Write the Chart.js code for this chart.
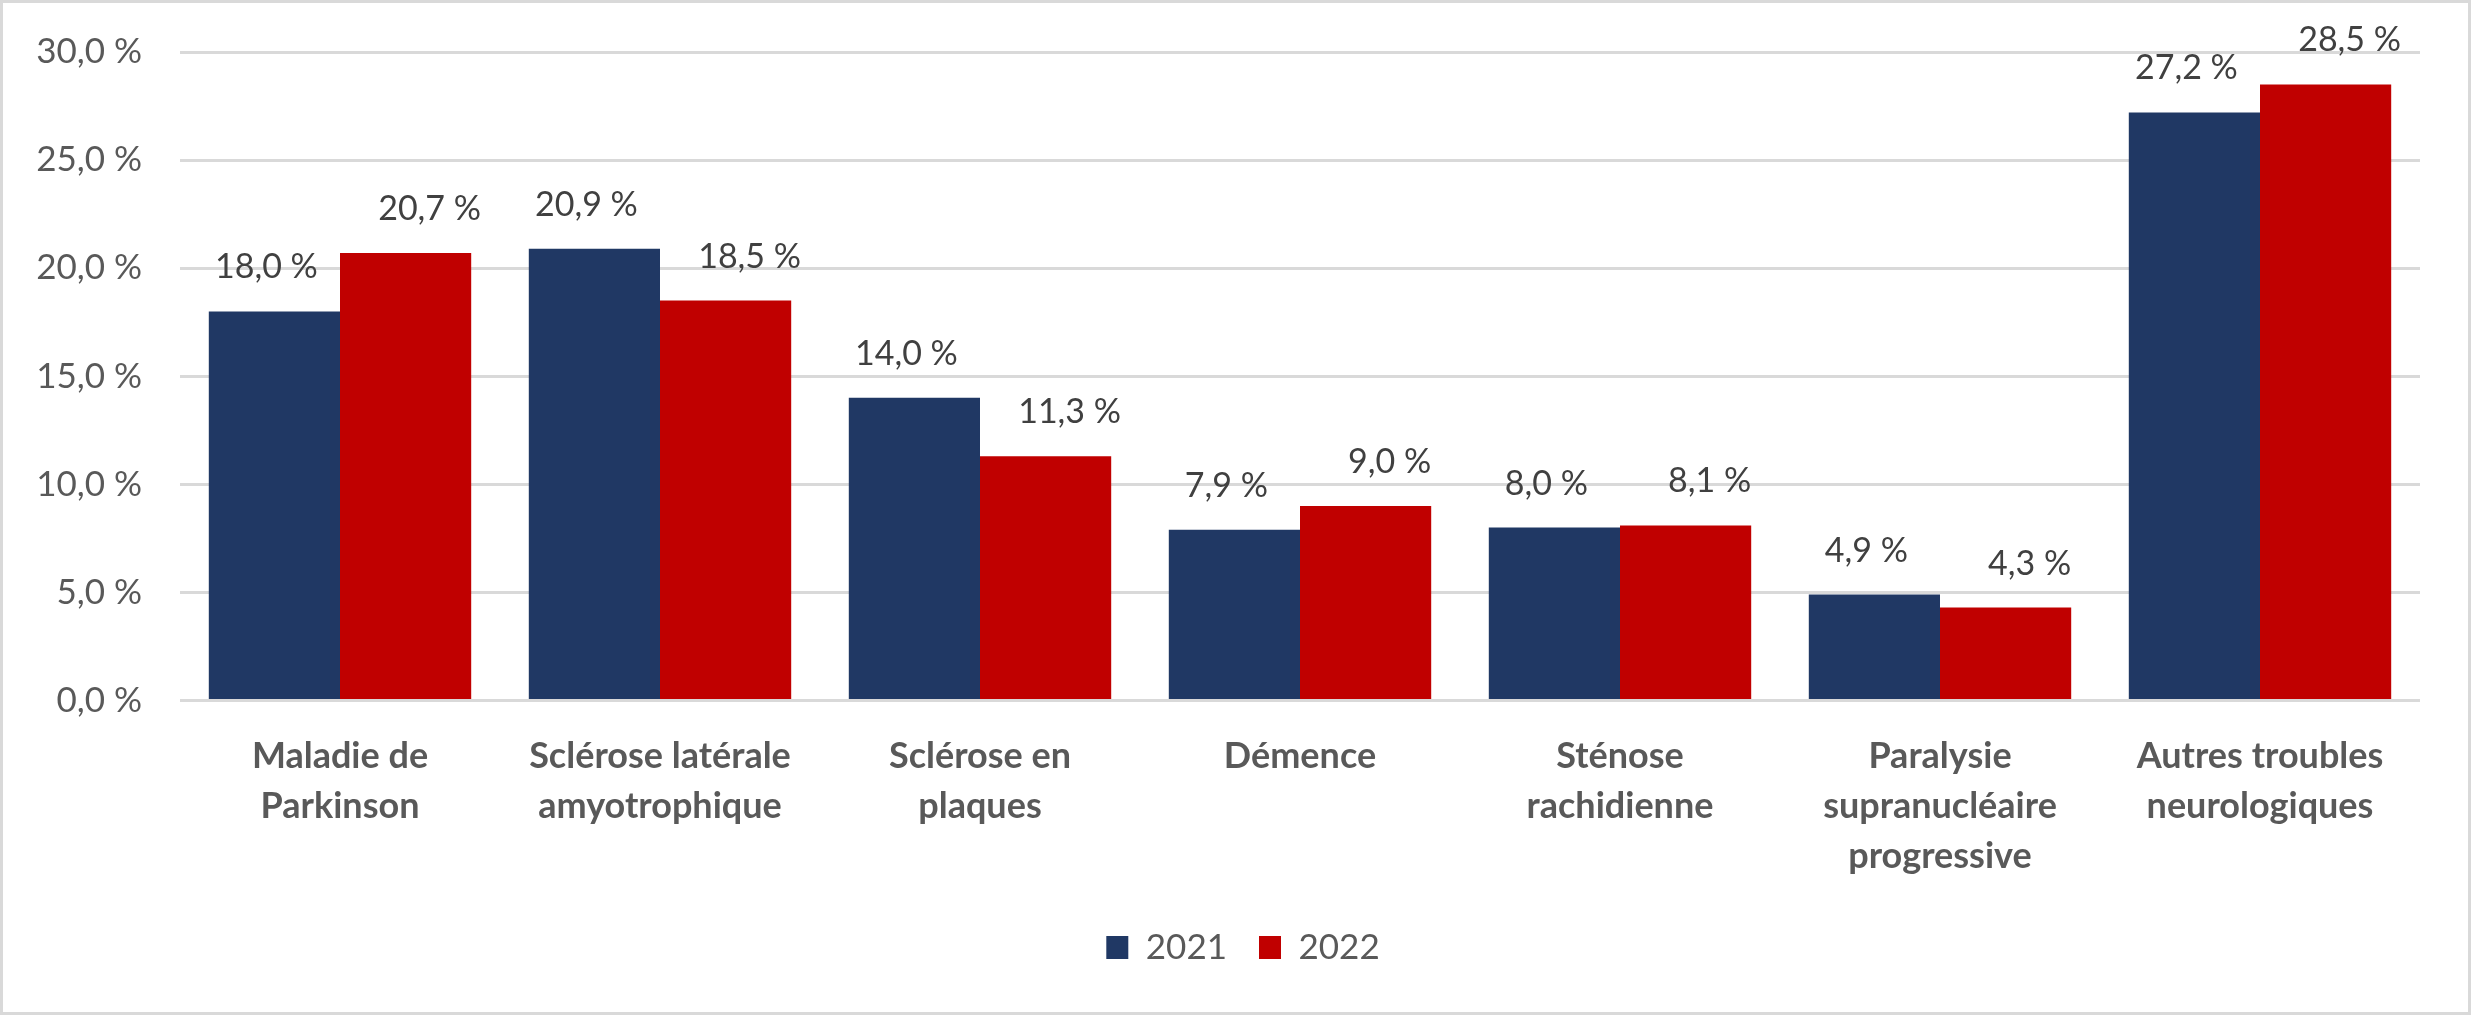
<!DOCTYPE html>
<html><head><meta charset="utf-8">
<script src="https://cdn.jsdelivr.net/npm/chart.js@4/dist/chart.umd.min.js"></script>
<style>html,body{margin:0;padding:0;background:#fff;overflow:hidden}#wrap{width:2471px;height:1015px;position:relative}canvas{display:block}</style>
</head><body><div id="wrap"><canvas id="c" width="2471" height="1015"></canvas></div>
<script>
const categories = [["Maladie de","Parkinson"],["Sclérose latérale","amyotrophique"],["Sclérose en","plaques"],["Démence"],["Sténose","rachidienne"],["Paralysie","supranucléaire","progressive"],["Autres troubles","neurologiques"]];
const seriesNames = ["2021","2022"];
const values2021 = [18.0,20.9,14.0,7.9,8.0,4.9,27.2];
const values2022 = [20.7,18.5,11.3,9.0,8.1,4.3,28.5];
const yTickValues = [0,5,10,15,20,25,30];
const fmt = v => v.toFixed(1).replace('.', ',') + ' %';

const frame = {
  id:'frame',
  beforeDraw(chart){
    const c = chart.ctx; c.save();
    c.fillStyle='#fff'; c.fillRect(0,0,chart.width,chart.height);
    c.restore();
  },
  afterLayout(chart){
    if (chart.legend) { chart.legend.left = 66; }
  },
  afterDraw(chart){
    const c = chart.ctx; c.save();
    c.strokeStyle='#D9D9D9'; c.lineWidth=3;
    c.strokeRect(1.5,1.5,chart.width-3,chart.height-3);
    c.restore();
  }
};
const dataLabels = {
  id:'dl',
  afterDatasetsDraw(chart, args, opts){
    const c = chart.ctx; c.save();
    c.font = '34px Lato'; c.fillStyle = '#404040';
    c.textAlign = 'center'; c.textBaseline = 'middle';
    chart.data.datasets.forEach((ds,i)=>{
      chart.getDatasetMeta(i).data.forEach((bar,j)=>{
        c.fillText(fmt(ds.data[j]), bar.x + opts.dx[i], bar.y - opts.dy);
      });
    });
    c.restore();
  }
};

function draw(){
  new Chart(document.getElementById('c'), {
    type:'bar',
    data:{
      labels: categories,
      datasets:[
        {label: seriesNames[0], data: values2021, backgroundColor:'#203864', borderWidth:0},
        {label: seriesNames[1], data: values2022, backgroundColor:'#C00000', borderWidth:0}
      ]
    },
    options:{
      responsive:false, devicePixelRatio:1, animation:false,
      layout:{padding:{left:0,right:51,top:52,bottom:40}},
      datasets:{bar:{categoryPercentage:0.82, barPercentage:1.0}},
      scales:{
        x:{
          grid:{display:false, drawTicks:false}, border:{display:false},
          ticks:{color:'#595959', padding:31, maxRotation:0, autoSkip:false,
            font:{family:'Lato', size:36, weight:'bold', lineHeight:50/36}},
          afterFit(s){ s.height = 197.5; }
        },
        y:{
          min:0, max:30,
          afterBuildTicks(s){ s.ticks = yTickValues.map(v=>({value:v})); },
          grid:{color:'#D9D9D9', lineWidth:3, drawTicks:false}, border:{display:false},
          ticks:{color:'#595959', padding:38, callback:v=>fmt(v),
            font:{family:'Lato', size:35}},
          afterFit(s){ s.width = 180; s.paddingTop = 0; s.paddingBottom = 0; }
        }
      },
      plugins:{
        legend:{position:'bottom', labels:{boxWidth:22, boxHeight:23, padding:32, color:'#595959', font:{family:'Lato', size:35}}},
        tooltip:{enabled:false},
        dl:{dx:[-8,24], dy:44}
      }
    },
    plugins:[frame, dataLabels]
  });
}
Promise.all([document.fonts.load('35px Lato'), document.fonts.load('bold 36px Lato')]).then(draw, draw);
</script></body></html>
